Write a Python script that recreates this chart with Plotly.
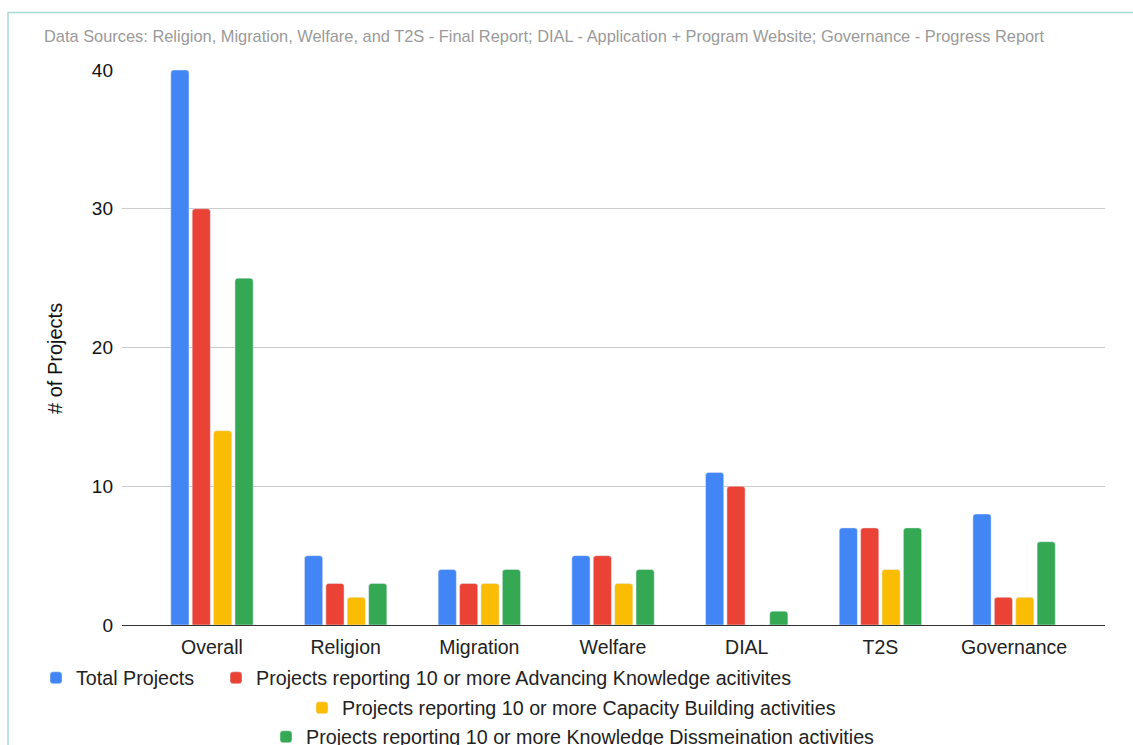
import plotly.graph_objects as go

categories = ["Overall", "Religion", "Migration", "Welfare", "DIAL", "T2S", "Governance"]
total_projects = [40, 5, 4, 5, 11, 7, 8]
advancing_knowledge = [30, 3, 3, 5, 10, 7, 2]
capacity_building = [14, 2, 3, 3, 0, 4, 2]
knowledge_dissemination = [25, 3, 4, 4, 1, 7, 6]

series_names = [
    "Total Projects",
    "Projects reporting 10 or more Advancing Knowledge acitivites",
    "Projects reporting 10 or more Capacity Building activities",
    "Projects reporting 10 or more Knowledge Dissmeination activities",
]
series_values = [total_projects, advancing_knowledge, capacity_building, knowledge_dissemination]
colors = ["#4285F4", "#EA4335", "#FBBC04", "#34A853"]
legend_ids = ["legend", "legend2", "legend3", "legend4"]

subtitle = ("Data Sources: Religion, Migration, Welfare, and T2S - Final Report; "
            "DIAL - Application + Program Website; Governance - Progress Report")

W, H = 1133, 745
L, R, T, B = 122, 28, 70, 120
pw, ph = W - L - R, H - T - B

def px_x(x):
    return (x - L) / pw

def px_y(y):
    return (H - B - y) / ph

FONT = "Arial, Liberation Sans, sans-serif"

fig = go.Figure()
for name, vals, col, lg in zip(series_names, series_values, colors, legend_ids):
    fig.add_trace(go.Bar(
        x=categories, y=vals, name=name, marker_color=col,
        legend=lg, hoverinfo="x+y+name",
    ))

# legend positions (symbol centre x, row centre y) in pixels
legend_pos = [(56, 678), (236, 678), (322, 708), (286, 737)]
legend_layouts = {}
for lg, (sx, sy) in zip(legend_ids, legend_pos):
    legend_layouts[lg] = dict(
        x=px_x(sx - 20), xanchor="left", y=px_y(sy), yanchor="middle",
        orientation="h", bgcolor="rgba(0,0,0,0)", borderwidth=0,
        font=dict(family=FONT, size=19.7, color="#222222"),
    )

fig.update_layout(
    width=W, height=H,
    margin=dict(l=L, r=R, t=T, b=B, pad=0, autoexpand=False),
    paper_bgcolor="white", plot_bgcolor="white",
    font=dict(family=FONT, size=19, color="#222222"),
    barmode="group", bargap=0.36, bargroupgap=0.15, barcornerradius=3,
    xaxis=dict(
        range=[-0.673, 6.68], showgrid=False, ticks="", showline=False,
        tickfont=dict(family=FONT, size=19.5, color="#222222"),
        ticklabelstandoff=8,
    ),
    yaxis=dict(
        range=[0, 40], dtick=10, gridcolor="#cccccc", gridwidth=1,
        zeroline=True, zerolinecolor="#333333", zerolinewidth=1.3,
        ticks="", tickfont=dict(family=FONT, size=19, color="#111111"),
        ticklabelstandoff=8,
    ),
    showlegend=True,
    **legend_layouts,
)

fig.add_annotation(
    text=subtitle, xref="paper", yref="paper", x=px_x(42), y=px_y(36),
    xanchor="left", yanchor="middle", showarrow=False,
    font=dict(family=FONT, size=16.4, color="#9a9a9a"),
)
fig.add_annotation(
    text="# of Projects", xref="paper", yref="paper", x=px_x(55), y=px_y(359),
    xanchor="center", yanchor="middle", showarrow=False, textangle=-90,
    font=dict(family=FONT, size=20, color="#111111"),
)
fig.add_shape(
    type="rect", xref="paper", yref="paper",
    x0=px_x(8), x1=px_x(1200), y0=px_y(800), y1=px_y(12.5),
    line=dict(color="#a6dbd5", width=1.5), fillcolor="rgba(0,0,0,0)", layer="below",
)

fig.write_html("out.html")
